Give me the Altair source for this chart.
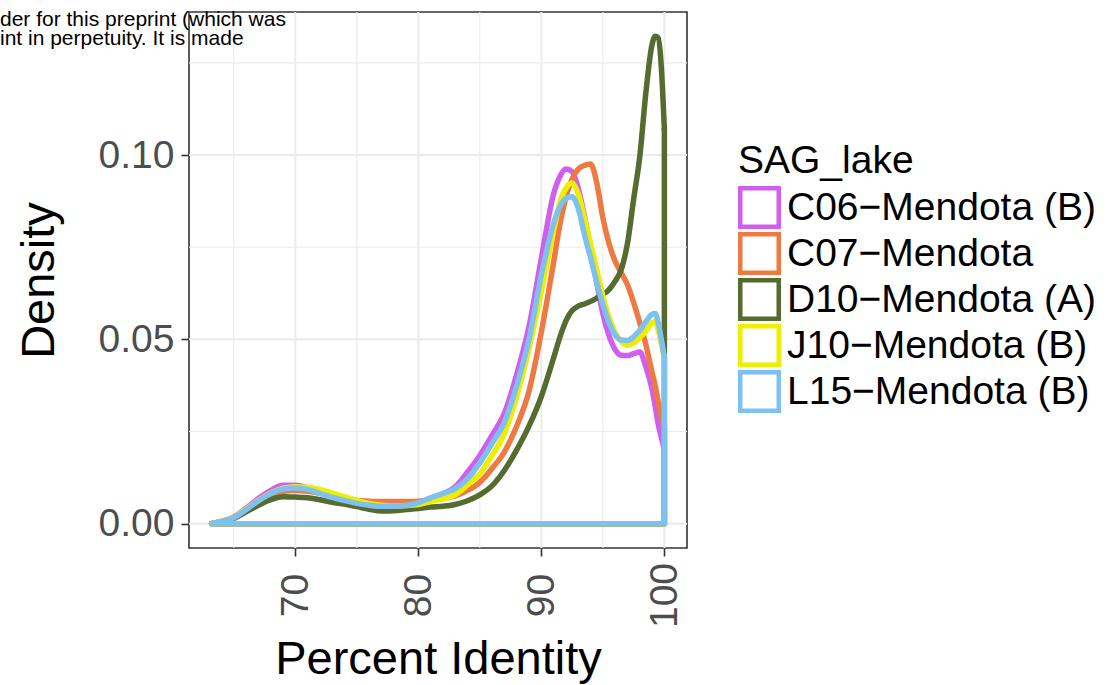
import altair as alt
import pandas as pd

# Percent identity grid on which the density curves are traced
PCT_ID = [63.2, 64, 65, 66, 67, 68, 69, 70, 71, 72, 73, 74, 75, 76, 77, 78, 79,
          80, 81, 82, 83, 84, 85, 86, 87, 88, 89, 90, 91, 91.5, 92, 92.5, 93,
          93.5, 94, 94.5, 95, 95.5, 96, 96.5, 97, 97.5, 98, 98.5, 99, 99.25,
          99.5, 99.75, 100]

C06 = [0, 0.0006, 0.0018, 0.0042, 0.0068, 0.0090, 0.0104, 0.0104, 0.0097, 0.0086,
       0.0075, 0.0067, 0.0060, 0.0055, 0.0052, 0.0051, 0.0052, 0.0056, 0.0065,
       0.0080, 0.0100, 0.0140, 0.0185, 0.0240, 0.0300, 0.0405, 0.0535, 0.0720,
       0.0895, 0.0941, 0.0962, 0.0955, 0.0910, 0.0835, 0.0745, 0.0655, 0.0570,
       0.0510, 0.0472, 0.0457, 0.0456, 0.0461, 0.0466, 0.0425, 0.0365, 0.0320,
       0.0270, 0.0235, 0.0200]

C07 = [0, 0.0006, 0.0016, 0.0038, 0.0060, 0.0078, 0.0088, 0.0090, 0.0088, 0.0082,
       0.0075, 0.0068, 0.0063, 0.0061, 0.0060, 0.0060, 0.0060, 0.0061, 0.0064,
       0.0068, 0.0075, 0.0090, 0.0112, 0.0150, 0.0195, 0.0265, 0.0360, 0.0520,
       0.0710, 0.0810, 0.0885, 0.0935, 0.0962, 0.0972, 0.0976, 0.0925, 0.0830,
       0.0760, 0.0712, 0.0680, 0.0648, 0.0600, 0.0545, 0.0485, 0.0410, 0.0375,
       0.0330, 0.0290, 0.0260]

D10 = [0, 0.0005, 0.0014, 0.0032, 0.0050, 0.0065, 0.0073, 0.0072, 0.0070, 0.0065,
       0.0058, 0.0053, 0.0046, 0.0039, 0.0034, 0.0035, 0.0038, 0.0041, 0.0045,
       0.0047, 0.0052, 0.0062, 0.0078, 0.0103, 0.0145, 0.0200, 0.0265, 0.0345,
       0.0450, 0.0505, 0.0550, 0.0578, 0.0590, 0.0596, 0.0603, 0.0612, 0.0622,
       0.0635, 0.0658, 0.0690, 0.0760, 0.0880, 0.0995, 0.1170, 0.1300, 0.1322,
       0.1318, 0.1240, 0.1070]

J10 = [0, 0.0006, 0.0017, 0.0040, 0.0063, 0.0083, 0.0096, 0.0100, 0.0099, 0.0093,
       0.0083, 0.0073, 0.0063, 0.0055, 0.0050, 0.0048, 0.0049, 0.0052, 0.0060,
       0.0068, 0.0078, 0.0105, 0.0135, 0.0185, 0.0245, 0.0345, 0.0475, 0.0630,
       0.0795, 0.0870, 0.0910, 0.0924, 0.0895, 0.0830, 0.0760, 0.0690, 0.0618,
       0.0560, 0.0518, 0.0494, 0.0484, 0.0490, 0.0505, 0.0522, 0.0545, 0.0548,
       0.0525, 0.0490, 0.0450]

L15 = [0, 0.0006, 0.0016, 0.0038, 0.0062, 0.0082, 0.0094, 0.0097, 0.0093, 0.0082,
       0.0071, 0.0063, 0.0055, 0.0050, 0.0047, 0.0047, 0.0049, 0.0057, 0.0070,
       0.0082, 0.0095, 0.0122, 0.0165, 0.0218, 0.0275, 0.0375, 0.0500, 0.0675,
       0.0815, 0.0860, 0.0882, 0.0887, 0.0855, 0.0785, 0.0722, 0.0655, 0.0595,
       0.0545, 0.0512, 0.0498, 0.0497, 0.0507, 0.0525, 0.0548, 0.0568, 0.0570,
       0.0545, 0.0500, 0.0450]

LAKES = ["C06\u2212Mendota (B)", "C07\u2212Mendota", "D10\u2212Mendota (A)",
         "J10\u2212Mendota (B)", "L15\u2212Mendota (B)"]
COLORS = ["#D15FEE", "#EE7942", "#556B2F", "#EEEE00", "#7EC0EE"]
SERIES = [C06, C07, D10, J10, L15]

X_TICKS = [70, 80, 90, 100]
X_MINOR = [65, 75, 85, 95]
Y_TICKS = [0.0, 0.05, 0.10]
Y_MINOR = [0.025, 0.075, 0.125]

NOTICE = ["der for this preprint (which was", "int in perpetuity. It is made"]

FONT = "Liberation Sans"
W, H = 498, 536

# ggplot-style 5% expansion around the data range
x_lo, x_hi = min(PCT_ID), max(PCT_ID)
y_hi = max(max(s) for s in SERIES)
X_DOM = [x_lo - 0.05 * (x_hi - x_lo), x_hi + 0.05 * (x_hi - x_lo)]
Y_DOM = [-0.05 * y_hi, 1.05 * y_hi]

curve_rows, close_rows = [], []
for lake, ys in zip(LAKES, SERIES):
    for i, (x, y) in enumerate(zip(PCT_ID, ys)):
        curve_rows.append({"lake": lake, "pct": x, "density": y, "step": i})
    # outline of the density polygon: drop to zero and run back along the base
    for i, (x, y) in enumerate([(PCT_ID[-1], ys[-1]), (PCT_ID[-1], 0.0),
                                (PCT_ID[0], 0.0)]):
        close_rows.append({"lake": lake, "pct": x, "density": y, "step": i})
curves = pd.DataFrame(curve_rows)
closes = pd.DataFrame(close_rows)

x_enc = alt.X("pct:Q", scale=alt.Scale(domain=X_DOM, nice=False, zero=False),
              axis=alt.Axis(values=X_TICKS, title="Percent Identity", grid=False,
                            domain=False, labelAngle=270, labelAlign="center",
                            labelBaseline="middle", labelPadding=39,
                            labelOverlap=False, titlePadding=9))
y_enc = alt.Y("density:Q", scale=alt.Scale(domain=Y_DOM, nice=False, zero=False),
              axis=alt.Axis(values=Y_TICKS, format=".2f", title="Density",
                            grid=False, domain=False, labelPadding=7,
                            labelOverlap=False, titlePadding=35))
color_enc = alt.Color(
    "lake:N",
    scale=alt.Scale(domain=LAKES, range=COLORS),
    legend=alt.Legend(title="SAG_lake", orient="none", legendX=549, legendY=130,
                      symbolType="square", symbolSize=1480,
                      symbolStrokeWidth=4.5, symbolFillColor="white",
                      clipHeight=43, rowPadding=3, titlePadding=5,
                      labelOffset=6, padding=0),
)

grid_major_x = alt.Chart(pd.DataFrame({"pct": X_TICKS})).mark_rule(
    color="#EBEBEB", strokeWidth=2).encode(x=x_enc)
grid_minor_x = alt.Chart(pd.DataFrame({"pct": X_MINOR})).mark_rule(
    color="#EBEBEB", strokeWidth=1.1).encode(x=x_enc)
grid_major_y = alt.Chart(pd.DataFrame({"density": Y_TICKS})).mark_rule(
    color="#EBEBEB", strokeWidth=2).encode(y=y_enc)
grid_minor_y = alt.Chart(pd.DataFrame({"density": Y_MINOR})).mark_rule(
    color="#EBEBEB", strokeWidth=1.1).encode(y=y_enc)

layers = [grid_minor_x, grid_minor_y, grid_major_x, grid_major_y]
line_style = dict(strokeWidth=5.5, strokeJoin="round", strokeCap="round")
for lake in LAKES:
    layers.append(
        alt.Chart(curves).transform_filter(alt.datum.lake == lake)
        .mark_line(interpolate="monotone", **line_style)
        .encode(x=x_enc, y=y_enc, color=color_enc, order="step:Q")
    )
    layers.append(
        alt.Chart(closes).transform_filter(alt.datum.lake == lake)
        .mark_line(**line_style)
        .encode(x=x_enc, y=y_enc, color=color_enc, order="step:Q")
    )

# two clipped lines of running text at the top-left corner
notice_df = pd.DataFrame({"line": NOTICE, "row": [0, 1]})
for row, y_px in [(0, 13.5), (1, 32.5)]:
    layers.append(
        alt.Chart(notice_df).transform_filter(alt.datum.row == row)
        .mark_text(align="left", baseline="alphabetic", font=FONT, fontSize=21,
                   color="black")
        .encode(x=alt.value(-189), y=alt.value(y_px), text="line:N")
    )

chart = alt.layer(*layers).properties(
    width=W, height=H,
    background="white",
    autosize=alt.AutoSizeParams(type="none"),
    padding={"left": 189, "top": 12, "right": 1110 - 189 - W,
             "bottom": 685 - 12 - H},
).configure_view(
    stroke="#333333", strokeWidth=1.6, fill="white"
).configure_axis(
    labelFont=FONT, labelFontSize=39, labelColor="#4D4D4D",
    titleFont=FONT, titleFontSize=47, titleColor="black", titleFontWeight="normal",
    tickColor="#333333", tickWidth=1.6, tickSize=8,
).configure_legend(
    titleFont=FONT, titleFontSize=39, titleColor="black", titleFontWeight="normal",
    labelFont=FONT, labelFontSize=39, labelColor="black", labelLimit=0,
)

chart.save("out.html", embed_options={"renderer": "svg", "actions": False})
